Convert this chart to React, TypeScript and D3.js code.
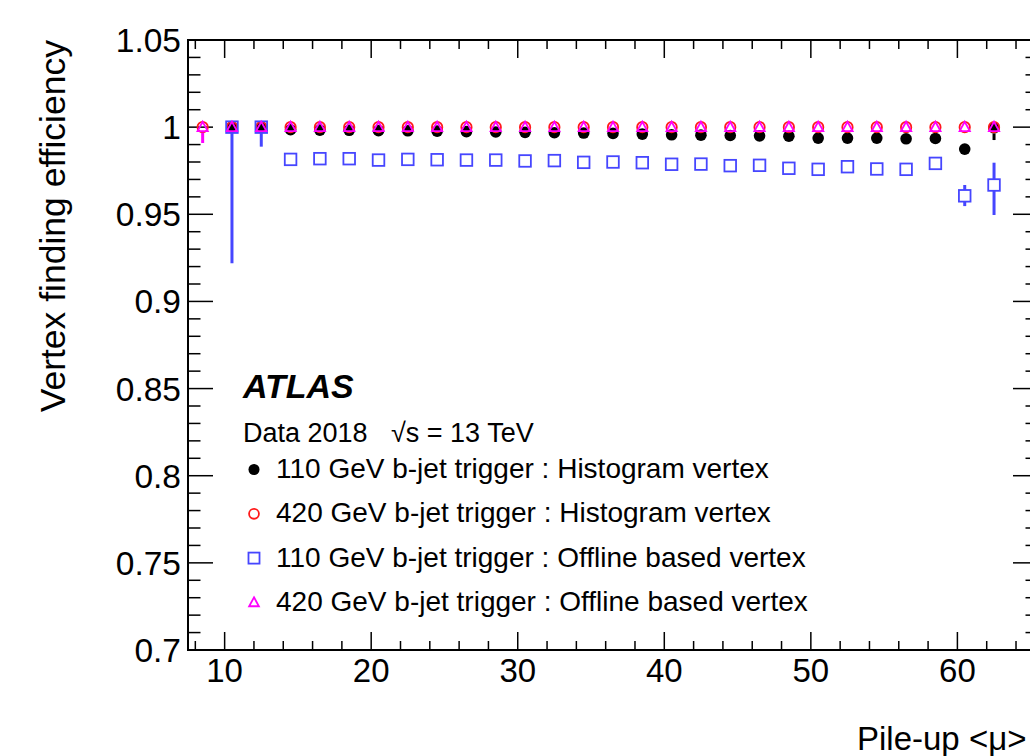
import React from 'react';
import * as d3 from 'd3';

// pile-up bins (bin centres)
const muBins = [8.5, 10.5, 12.5, 14.5, 16.5, 18.5, 20.5, 22.5, 24.5, 26.5, 28.5, 30.5, 32.5, 34.5,
  36.5, 38.5, 40.5, 42.5, 44.5, 46.5, 48.5, 50.5, 52.5, 54.5, 56.5, 58.5, 60.5, 62.5];

// 110 GeV b-jet trigger : Histogram vertex
const hist110 = [null, 1.0, 1.0, 0.9985, 0.9983, 0.9982, 0.998, 0.9979, 0.9977, 0.9974, 0.9972, 0.997, 0.9968, 0.9966,
  0.9964, 0.996, 0.9956, 0.9954, 0.9952, 0.995, 0.9948, 0.9937, 0.9937, 0.9937, 0.9933, 0.9935, 0.9874, 0.9995];
const hist110ErrLo = [0, 0, 0, 0, 0, 0, 0, 0, 0, 0, 0, 0, 0, 0, 0, 0, 0, 0, 0, 0, 0, 0, 0, 0, 0, 0, 0, 0.0069];
const hist110ErrHi = [0, 0, 0, 0, 0, 0, 0, 0, 0, 0, 0, 0, 0, 0, 0, 0, 0, 0, 0, 0, 0, 0, 0, 0, 0, 0, 0, 0];

// 420 GeV b-jet trigger : Histogram vertex
const hist420 = [1.0, 1.0, 1.0, 1.0, 1.0, 1.0, 1.0, 1.0, 1.0, 1.0, 1.0, 1.0, 1.0, 1.0,
  1.0, 1.0, 1.0, 1.0, 1.0, 1.0, 1.0, 1.0, 1.0, 1.0, 1.0, 1.0, 1.0, 1.0];

// 110 GeV b-jet trigger : Offline based vertex
const offl110 = [null, 1.0, 1.0, 0.9815, 0.9819, 0.9819, 0.9811, 0.9815, 0.9813, 0.9811, 0.9811, 0.9806, 0.9808, 0.9798,
  0.980, 0.9796, 0.9787, 0.9788, 0.9779, 0.9781, 0.9764, 0.9758, 0.9773, 0.976, 0.9758, 0.9792, 0.9606, 0.9668];
const offl110ErrLo = [0, 0.0781, 0.0112, 0, 0, 0, 0, 0, 0, 0, 0, 0, 0, 0, 0, 0, 0, 0, 0, 0, 0, 0, 0, 0, 0, 0, 0.0059, 0.0172];
const offl110ErrHi = [0, 0, 0, 0, 0, 0, 0, 0, 0, 0, 0, 0, 0, 0, 0, 0, 0, 0, 0, 0, 0, 0, 0, 0, 0, 0, 0.0062, 0.0128];

// 420 GeV b-jet trigger : Offline based vertex
const offl420 = [1.0, 1.0, 1.0, 1.0, 1.0, 1.0, 1.0, 1.0, 1.0, 1.0, 1.0, 1.0, 1.0, 1.0,
  1.0, 1.0, 1.0, 1.0, 1.0, 1.0, 1.0, 1.0, 1.0, 1.0, 1.0, 1.0, 1.0, 1.0];
const offl420ErrLo = [0.0091, 0, 0, 0, 0, 0, 0, 0, 0, 0, 0, 0, 0, 0, 0, 0, 0, 0, 0, 0, 0, 0, 0, 0, 0, 0, 0, 0];

const xTickLabels = ['10', '20', '30', '40', '50', '60'];
const yTickLabels = ['0.7', '0.75', '0.8', '0.85', '0.9', '0.95', '1', '1.05'];

const legendLabels = [
  '110 GeV b-jet trigger : Histogram vertex',
  '420 GeV b-jet trigger : Histogram vertex',
  '110 GeV b-jet trigger : Offline based vertex',
  '420 GeV b-jet trigger : Offline based vertex',
];

const FONT = '"Liberation Sans", Arial, Helvetica, sans-serif';
const BLUE = '#4646ff';
const RED = '#ff1a1a';
const MAGENTA = '#ff00ff';

// frame
const left = 188, right = 1038, top = 40, bottom = 650;

function Marker({ kind, x, y, s = 1 }: { kind: string; x: number; y: number; s?: number }) {
  if (kind === 'dot') return <circle cx={x} cy={y} r={5.8 * s} fill="#000" />;
  if (kind === 'circle') return <circle cx={x} cy={y} r={5.2 * s} fill="none" stroke={RED} strokeWidth={1.8} />;
  if (kind === 'square') {
    const h = 5.8 * s;
    return <rect x={x - h} y={y - h} width={2 * h} height={2 * h} fill="none" stroke={BLUE} strokeWidth={1.8} />;
  }
  const h = 5.4 * s;
  return (
    <path d={`M${x},${y - h}L${x + h * 0.95},${y + h * 0.75}L${x - h * 0.95},${y + h * 0.75}Z`}
      fill="none" stroke={MAGENTA} strokeWidth={1.8} />
  );
}

export default function App() {
  const x = d3.scaleLinear().domain([7.5, 65.5]).range([left, right]);
  const y = d3.scaleLinear().domain([0.7, 1.05]).range([bottom, top]);

  const xMajor = xTickLabels.map(Number);
  const xMinor = d3.range(8, 66, 2).filter(v => !xMajor.includes(v));
  const yMajor = yTickLabels.map(Number);
  const yMinor = d3.range(70, 106, 1).map(v => v / 100).filter(v => !yMajor.some(m => Math.abs(m - v) < 1e-6));

  const series = [
    { kind: 'dot', vals: hist110, lo: hist110ErrLo, hi: hist110ErrHi, color: '#000', half: 5.8 },
    { kind: 'circle', vals: hist420, lo: null, hi: null, color: RED, half: 5.2 },
    { kind: 'square', vals: offl110, lo: offl110ErrLo, hi: offl110ErrHi, color: BLUE, half: 5.8 },
    { kind: 'triangle', vals: offl420, lo: offl420ErrLo, hi: null, color: MAGENTA, half: 5.4 },
  ];

  return (
    <svg width={1030} height={756} style={{ position: 'absolute', left: 0, top: 0, background: '#fff' }}
      fontFamily={FONT}>
      <rect x={0} y={0} width={1030} height={756} fill="#fff" />

      {/* ticks */}
      <g stroke="#000" strokeWidth={1.5}>
        {xMajor.map(v => (
          <g key={'xM' + v}>
            <line x1={x(v)} x2={x(v)} y1={bottom} y2={bottom - 18} />
            <line x1={x(v)} x2={x(v)} y1={top} y2={top + 18} />
          </g>
        ))}
        {xMinor.map(v => (
          <g key={'xm' + v}>
            <line x1={x(v)} x2={x(v)} y1={bottom} y2={bottom - 9} />
            <line x1={x(v)} x2={x(v)} y1={top} y2={top + 9} />
          </g>
        ))}
        {yMajor.map(v => (
          <g key={'yM' + v}>
            <line x1={left} x2={left + 25} y1={y(v)} y2={y(v)} />
            <line x1={right} x2={right - 25} y1={y(v)} y2={y(v)} />
          </g>
        ))}
        {yMinor.map(v => (
          <g key={'ym' + v}>
            <line x1={left} x2={left + 12.5} y1={y(v)} y2={y(v)} />
            <line x1={right} x2={right - 12.5} y1={y(v)} y2={y(v)} />
          </g>
        ))}
      </g>
      <rect x={left} y={top} width={right - left} height={bottom - top} fill="none" stroke="#000" strokeWidth={2} />

      {/* tick labels */}
      {xTickLabels.map(t => (
        <text key={'xl' + t} x={x(+t)} y={682} textAnchor="middle" fontSize={33}>{t}</text>
      ))}
      {yTickLabels.map(t => (
        <text key={'yl' + t} x={181} y={y(+t) + 12} textAnchor="end" fontSize={33.5}>{t}</text>
      ))}

      {/* axis titles */}
      <text transform={`translate(65,${top}) rotate(-90)`} textAnchor="end" fontSize={35.5}>Vertex finding efficiency</text>
      <text x={857} y={750} fontSize={33}>Pile-up &lt;μ&gt;</text>

      {/* data */}
      {series.map((s, si) => (
        <g key={'s' + si}>
          {s.vals.map((v, i) => {
            if (v == null) return null;
            const cx = x(muBins[i]);
            const cy = y(v);
            const lo = s.lo ? s.lo[i] : 0;
            const hi = s.hi ? s.hi[i] : 0;
            const yLo = y(v - lo);
            const yHi = y(v + hi);
            return (
              <g key={i}>
                {yLo > cy + s.half && (
                  <line x1={cx} x2={cx} y1={cy + s.half} y2={yLo} stroke={s.color} strokeWidth={3} />
                )}
                {yHi < cy - s.half && (
                  <line x1={cx} x2={cx} y1={cy - s.half} y2={yHi} stroke={s.color} strokeWidth={3} />
                )}
                <Marker kind={s.kind} x={cx} y={cy} />
              </g>
            );
          })}
        </g>
      ))}

      {/* labels and legend */}
      <text x={243} y={398} fontSize={34} fontWeight="bold" fontStyle="italic">ATLAS</text>
      <text x={243} y={442} fontSize={27}>Data 2018</text>
      <text x={391} y={442} fontSize={27}>√s = 13 TeV</text>
      {legendLabels.map((l, i) => {
        const ly = 478 + i * 44.3;
        return (
          <g key={'lg' + i}>
            <Marker kind={series[i].kind} x={254} y={ly - 8.5} s={0.95} />
            <text x={276} y={ly} fontSize={28}>{l}</text>
          </g>
        );
      })}
    </svg>
  );
}
